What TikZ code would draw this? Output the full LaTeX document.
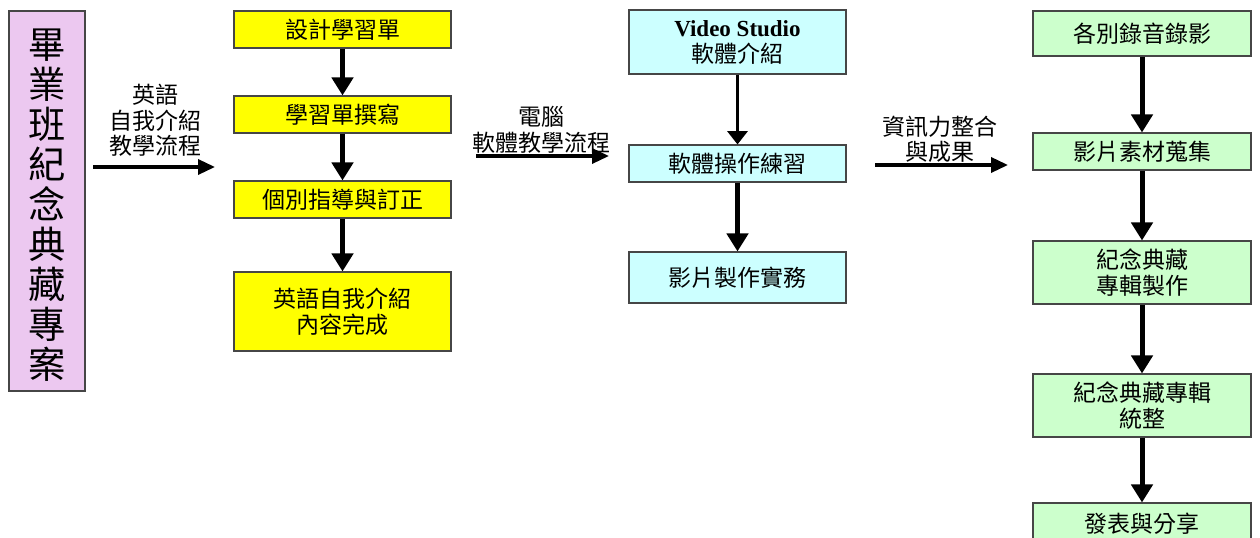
\documentclass[tikz,border=0pt]{standalone}
\usepackage{fontspec}
\setmainfont{Noto Sans CJK TC}
\newfontfamily\vsfont{Liberation Serif}
\usetikzlibrary{arrows.meta}
\definecolor{pinkfill}{RGB}{236,200,240}
\definecolor{yelfill}{RGB}{255,255,0}
\definecolor{cyanfill}{RGB}{204,255,255}
\definecolor{greenfill}{RGB}{204,255,204}
\definecolor{edgecol}{RGB}{70,70,70}
\begin{document}
\begin{tikzpicture}[x=0.75pt,y=-0.75pt,
  box/.style={draw=edgecol, line width=0.8pt, inner sep=0pt, align=center,
    font=\fontsize{17.25}{19.5}\selectfont},
  ybox/.style={box, fill=yelfill, minimum width=162.75pt},
  cbox/.style={box, fill=cyanfill, minimum width=162.75pt},
  gbox/.style={box, fill=greenfill, minimum width=163.5pt},
  lbl/.style={inner sep=0pt, align=center, font=\fontsize{17.25}{19}\selectfont},
  varrow/.style={line width=3.75pt, -{Triangle[length=13.5pt,width=15.75pt]}},
  thinvarrow/.style={line width=2.3pt, -{Triangle[length=10pt,width=15pt]}},
  harrow/.style={line width=2.6pt, -{Triangle[length=12.75pt,width=11.25pt]}}
]
\useasboundingbox (0,0) rectangle (1260,538);
\clip (0,0) rectangle (1260,538);
\fill[white] (0,0) rectangle (1260,538);

% title box
\node[box, fill=pinkfill, minimum width=57pt, minimum height=285pt] (title) at (47,201) {};
\node[inner sep=0pt, align=center, font=\fontsize{28}{30}\selectfont] (titletext) at (47,205)
  {畢\\業\\班\\紀\\念\\典\\藏\\專\\案};

% yellow column
\node[ybox, minimum height=27.75pt] (y1) at (342.5,29.5) {設計學習單};
\node[ybox, minimum height=27.75pt] (y2) at (342.5,114.5) {學習單撰寫};
\node[ybox, minimum height=27.75pt] (y3) at (342.5,199.5) {個別指導與訂正};
\node[ybox, minimum height=59.25pt] (y4) at (342.5,311.5) {英語自我介紹\\內容完成};
\draw[varrow] (y1) -- (y2);
\draw[varrow] (y2) -- (y3);
\draw[varrow] (y3) -- (y4);

% cyan column
\node[cbox, minimum height=48pt] (c1) at (737.5,42) {{\vsfont\bfseries Video Studio}\\軟體介紹};
\node[cbox, minimum height=27.75pt] (c2) at (737.5,163.5) {軟體操作練習};
\node[cbox, minimum height=38.25pt] (c3) at (737.5,277.5) {影片製作實務};
\draw[thinvarrow] (c1) -- (c2);
\draw[varrow] (c2) -- (c3);

% green column
\node[gbox, minimum height=33.75pt] (g1) at (1142,33.5) {各別錄音錄影};
\node[gbox, minimum height=27.75pt] (g2) at (1142,151.5) {影片素材蒐集};
\node[gbox, minimum height=47.25pt] (g3) at (1142,272.5) {紀念典藏\\專輯製作};
\node[gbox, minimum height=47.25pt] (g4) at (1142,405.5) {紀念典藏專輯\\統整};
\node[gbox, minimum height=31.5pt] (g5) at (1142,524) {發表與分享};
\draw[varrow] (g1) -- (g2);
\draw[varrow] (g2) -- (g3);
\draw[varrow] (g3) -- (g4);
\draw[varrow] (g4) -- (g5);

% horizontal arrows with labels
\coordinate (a1s) at (93,167);
\coordinate (a1e) at (215,167);
\draw[harrow] (a1s) -- (a1e);
\node[lbl] (l1) at (155,120.5) {英語\\自我介紹\\教學流程};

\coordinate (a2s) at (476,156);
\coordinate (a2e) at (609,156);
\draw[harrow] (a2s) -- (a2e);
\node[lbl, font=\fontsize{17.25}{19.5}\selectfont] (l2) at (541,130) {電腦\\軟體教學流程};

\coordinate (a3s) at (875,165);
\coordinate (a3e) at (1008,165);
\draw[harrow] (a3s) -- (a3e);
\node[lbl] (l3) at (940,139.5) {資訊力整合\\與成果};
\end{tikzpicture}
\end{document}
